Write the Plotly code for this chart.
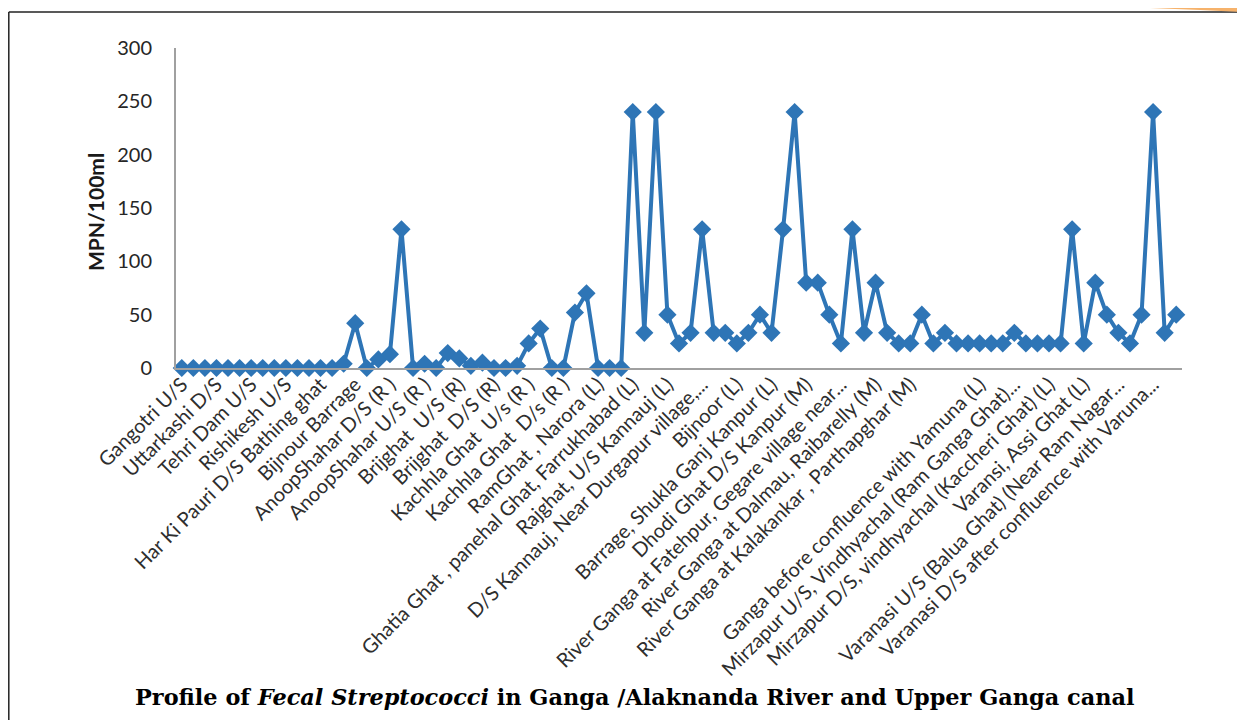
import plotly.graph_objects as go

# ---------------- data ----------------
site_labels = [
    "Gangotri U/S",
    "Uttarkashi D/S",
    "Tehri Dam U/S",
    "Rishikesh U/S",
    "Har Ki Pauri D/S Bathing ghat",
    "Bijnour Barrage",
    "AnoopShahar D/S (R )",
    "AnoopShahar U/S (R )",
    "Brijghat  U/S (R)",
    "Brijghat  D/S (R)",
    "Kachhla Ghat  U/s (R )",
    "Kachhla Ghat  D/s (R )",
    "RamGhat , Narora (L)",
    "Ghatia Ghat , panehal Ghat, Farrukhabad (L)",
    "Rajghat, U/S Kannauj (L)",
    "D/S Kannauj, Near Durgapur village,...",
    "Bijnoor (L)",
    "Barrage, Shukla Ganj Kanpur (L)",
    "Dhodi Ghat D/S Kanpur (M)",
    "River Ganga at Fatehpur, Gegare village near...",
    "River Ganga at Dalmau, Raibarelly (M)",
    "River Ganga at Kalakankar , Parthapghar (M)",
    "",
    "Ganga before confluence with Yamuna (L)",
    "Mirzapur U/S, Vindhyachal (Ram Ganga Ghat)...",
    "Mirzapur D/S, vindhyachal (Kaccheri Ghat) (L)",
    "Varansi, Assi Ghat (L)",
    "Varanasi U/S (Balua Ghat) (Near Ram Nagar...",
    "Varanasi D/S after confluence with Varuna...",
]
label_step = 3

fs_values = [
    0, 0, 0, 0, 0, 0, 0, 0, 0, 0, 0, 0, 0, 0,
    4, 42, 0, 8, 13, 130, 0, 4, 0, 14, 9, 2, 5, 0, 0, 2,
    23, 37, 0, 0, 52, 70, 0, 0, 0, 240, 33, 240, 50, 23, 33, 130,
    33, 33, 23, 33, 50, 33, 130, 240, 80, 80, 50, 23, 130, 33, 80, 33,
    23, 23, 50, 23, 33, 23, 23, 23, 23, 23, 33, 23, 23, 23, 23, 130,
    23, 80, 50, 33, 23, 50, 240, 33, 50,
]

y_ticks = [0, 50, 100, 150, 200, 250, 300]
y_title = "MPN/100ml"
chart_title = "<b>Profile of <i>Fecal Streptococci</i> in Ganga /Alaknanda River and Upper Ganga canal</b>"

# ---------------- layout geometry ----------------
# page body has an 8px margin, so the figure is shifted by OFF
OFF = 8
W, H = 1245 - OFF, 720 - OFF
# plot-area edges in screenshot pixels
SL, SR, ST, SB = 176, 1182, 48, 368
PL, PR, PT, PB = SL - OFF, SR - OFF, ST - OFF, SB - OFF


def px(x):
    return (x - SL) / (SR - SL)


def py(y):
    return (SB - y) / (SB - ST)


x_idx = list(range(len(fs_values)))
tick_vals = [i * label_step for i in range(len(site_labels))]

BLUE = "#2E75B6"

fig = go.Figure()
fig.add_trace(go.Scatter(
    x=x_idx,
    y=fs_values,
    mode="lines+markers",
    line=dict(color=BLUE, width=4),
    marker=dict(symbol="diamond", size=14, color=BLUE),
    cliponaxis=False,
    showlegend=False,
))

shapes = [
    # outer frame (left & top edges visible)
    dict(type="line", xref="paper", yref="paper",
         x0=px(8.8), y0=py(12), x1=px(8.8), y1=py(740),
         line=dict(color="#222222", width=1.5)),
    dict(type="line", xref="paper", yref="paper",
         x0=px(8.8), y0=py(12), x1=px(1260), y1=py(12),
         line=dict(color="#222222", width=1.5)),
    # orange swoosh at top right
    dict(type="path", xref="paper", yref="paper",
         path="M {} {} L {} {} L {} {} L {} {} Z".format(
             px(1125), py(7), px(1260), py(7), px(1260), py(13), px(1200), py(10)),
         fillcolor="#F6B26B", line=dict(width=0)),
]

annotations = [
    dict(text="<b>" + y_title + "</b>", xref="paper", yref="paper",
         x=px(95), y=py(212), xanchor="center", yanchor="middle",
         textangle=-90, showarrow=False,
         font=dict(family="Lato", size=21, color="#1a1a1a")),
    dict(text=chart_title, xref="paper", yref="paper",
         x=px(634), y=py(697), xanchor="center", yanchor="middle",
         showarrow=False,
         font=dict(family="DejaVu Serif", size=22.4, color="#000000")),
]

fig.update_layout(
    template="none",
    width=W, height=H,
    autosize=False,
    margin=dict(l=PL, r=W - PR, t=PT, b=H - PB, pad=0),
    paper_bgcolor="white",
    plot_bgcolor="white",
    shapes=shapes,
    annotations=annotations,
    xaxis=dict(
        range=[-0.5, len(fs_values) - 0.5],
        tickmode="array",
        tickvals=tick_vals,
        ticktext=site_labels,
        tickangle=-45,
        tickfont=dict(family="Lato", size=20, color="#2e2e2e"),
        showgrid=False,
        zeroline=False,
        showline=True,
        linecolor="#A0A0A0",
        linewidth=2,
        ticks="",
        ticklabelstandoff=-5,
        automargin=False,
    ),
    yaxis=dict(
        range=[0, 300],
        tickmode="array",
        tickvals=y_ticks,
        tickfont=dict(family="Lato", size=20, color="#262626"),
        showgrid=False,
        zeroline=False,
        showline=True,
        linecolor="#A0A0A0",
        linewidth=2,
        ticks="",
        ticklabelstandoff=18,
        automargin=False,
    ),
)

fig.write_html("out.html")
